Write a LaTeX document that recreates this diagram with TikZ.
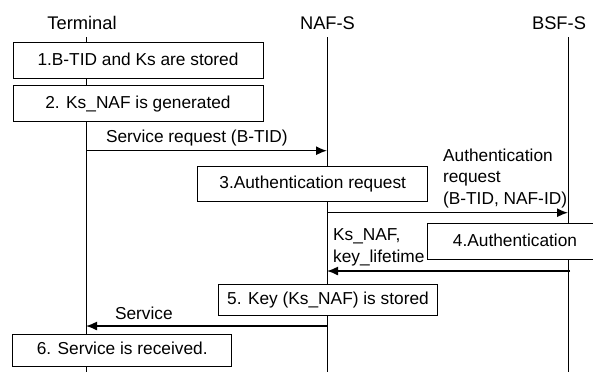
\documentclass[tikz,border=0pt]{standalone}
\usepackage{fontspec}
\setmainfont{Liberation Sans}
\usepackage{tikz}
\usetikzlibrary{arrows.meta}

\begin{document}
\begin{tikzpicture}[x=0.5pt, y=-0.5pt]
    % Setup the styles for the boxes and messages
        \tikzset{box style/.style={draw,
                                   fill=white,
                                   line width=0.5pt,
                                   inner sep=0pt,
                                   text depth=0.25ex,
                                   font=\fontsize{8.65}{10.75}\selectfont},
                 head style/.style={inner sep=0pt,
                                    font=\fontsize{9.15}{11}\selectfont},
                 msg style/.style={inner sep=2pt,
                                   align=left,
                                   font=\fontsize{8.65}{10.75}\selectfont},
                 life style/.style={line width=0.5pt},
                 arrow style/.style={line width=0.7pt,
                                     -{Latex[length=5.5pt, width=4.5pt]}}}
        \useasboundingbox (0, 0) rectangle (593, 372);
        \clip (0, 0) rectangle (593, 372);
        % Draw the entities
        \node[head style] at (82, 23)     (terminal) {Terminal};
        \node[head style] at (327.5, 23)  (naf) {NAF-S};
        \node[head style] at (559, 23)    (bsf) {BSF-S};
        % Points on the lifelines
        \coordinate (terminal top) at (86, 37);
        \coordinate (terminal end) at (86, 372);
        \coordinate (naf top) at (327, 37);
        \coordinate (naf end) at (327, 372);
        \coordinate (bsf top) at (568, 37);
        \coordinate (bsf end) at (568, 372);
        \coordinate (sreq from) at (86, 150.7);
        \coordinate (sreq to) at (327, 150.7);
        \coordinate (areq from) at (327, 212.7);
        \coordinate (areq to) at (568, 212.7);
        \coordinate (key from) at (570, 271);
        \coordinate (key to) at (327, 271);
        \coordinate (serv from) at (327, 326);
        \coordinate (serv to) at (86, 326);
        % Draw the lifelines
        \draw[life style] (terminal top) -- (terminal end);
        \draw[life style] (naf top) -- (naf end);
        \draw[life style] (bsf top) -- (bsf end);
        % Draw the steps
        \node[box style, minimum width=125pt, minimum height=17.8pt] at (138, 60.5)    (stored) {1.B-TID and Ks are stored};
        \node[box style, minimum width=125pt, minimum height=18pt] at (138, 103.7)     (generated) {2. Ks\_NAF is generated};
        \node[box style, minimum width=115pt, minimum height=17.85pt] at (312.7, 184)  (authreq) {3.Authentication request};
        \node[box style, minimum width=88pt, minimum height=18pt] at (515, 241.3)      (auth) {4.Authentication};
        \node[box style, minimum width=109.7pt, minimum height=15.5pt] at (328, 299.5) (keystored) {5. Key (Ks\_NAF) is stored};
        \node[box style, minimum width=109.5pt, minimum height=16pt] at (122.2, 350)   (received) {6. Service is received.};
        % Labels beside the messages
        \node[msg style, anchor=north west] at (438.7, 144.3) (areq label) {Authentication\\request\\(B-TID, NAF-ID)};
        \node[msg style, anchor=north west] at (328.7, 224.3) (key label) {Ks\_NAF,\\key\_lifetime};
        % Connect the lifelines with messages
        \draw[arrow style] (sreq from) -- node[msg style, above, pos=0.46] (sreq label) {Service request (B-TID)} (sreq to);
        \draw[arrow style] (areq from) -- (areq to);
        \draw[arrow style] (key from) -- (key to);
        \draw[arrow style] (serv from) -- node[msg style, above, pos=0.76, yshift=1pt] (serv label) {Service} (serv to);
\end{tikzpicture}
\end{document}
